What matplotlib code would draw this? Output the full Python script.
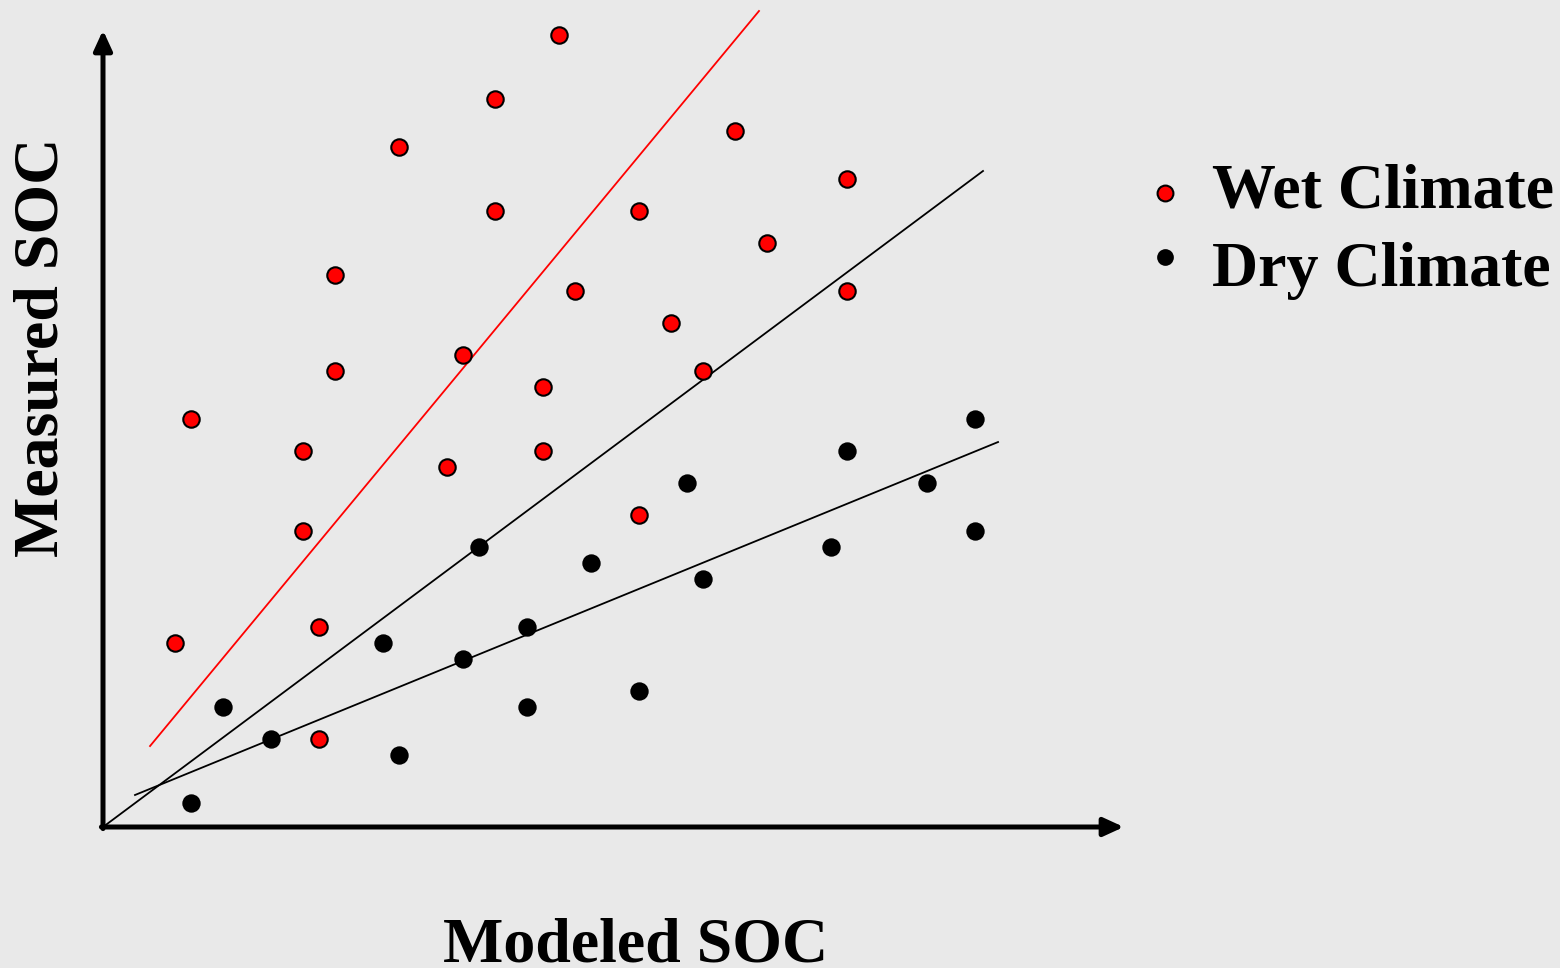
import matplotlib
matplotlib.use("Agg")
import matplotlib.pyplot as plt

plt.rcParams.update({"font.family": ["Liberation Serif", "DejaVu Serif"], "figure.dpi": 100})
BG, RED, INK = "#e9e9e9", "#ff0000", "#000000"

# modeled / measured SOC (arbitrary units)
wet_x = [28.5, 24.5, 18.5, 39.5, 46.5, 24.5, 33.5, 41.5, 14.5, 29.5, 35.5, 22.5, 46.5,
         14.5, 37.5, 27.5, 5.5, 12.5, 27.5, 21.5, 33.5, 12.5, 13.5, 4.5, 13.5]
wet_y = [49.5, 45.5, 42.5, 43.5, 40.5, 38.5, 38.5, 36.5, 34.5, 33.5, 31.5, 29.5, 33.5,
         28.5, 28.5, 27.5, 25.5, 23.5, 23.5, 22.5, 19.5, 18.5, 12.5, 11.5, 5.5]
dry_x = [54.5, 46.5, 51.5, 36.5, 23.5, 45.5, 54.5, 30.5, 37.5, 26.5, 17.5, 22.5, 33.5,
         7.5, 26.5, 10.5, 18.5, 5.5]
dry_y = [25.5, 23.5, 21.5, 21.5, 17.5, 17.5, 18.5, 16.5, 15.5, 12.5, 11.5, 10.5, 8.5,
         7.5, 7.5, 5.5, 4.5, 1.5]

# trend lines (start, end)
wet_fit_x, wet_fit_y = [2.94, 41.0], [5.06, 51.0]
one_to_one_x, one_to_one_y = [0.0, 55.0], [0.0, 41.0]
dry_fit_x, dry_fit_y = [2.0, 55.94], [2.0, 24.06]

fig = plt.figure(figsize=(15.6, 9.68), facecolor=BG)
ax = fig.add_axes([0, 0, 1, 1]); ax.set_facecolor(BG); ax.axis("off")
ax.set_xlim(-6.4375, 91.0625); ax.set_ylim(-8.8125, 51.6875)

# axes arrows
arrow = dict(arrowstyle="-|>,head_length=1.2,head_width=0.55", color=INK, lw=3.6, shrinkA=0, shrinkB=0)
ax.annotate("", xy=(63.8, 0), xytext=(-0.1, 0), arrowprops=arrow)
ax.annotate("", xy=(0, 49.8), xytext=(0, -0.1), arrowprops=arrow)

ax.plot(wet_fit_x, wet_fit_y, color=RED, lw=1.3, zorder=2)
ax.plot(one_to_one_x, one_to_one_y, color=INK, lw=1.3, zorder=2)
ax.plot(dry_fit_x, dry_fit_y, color=INK, lw=1.3, zorder=2)

ax.scatter(wet_x, wet_y, s=140, color=RED, edgecolor=INK, linewidth=1.5, zorder=3)
ax.scatter(dry_x, dry_y, s=175, color=INK, edgecolor=INK, linewidth=0, zorder=3)

# legend
ax.scatter([66.4], [39.6], s=130, color=RED, edgecolor=INK, linewidth=1.5, zorder=3)
ax.scatter([66.4], [35.6], s=145, color=INK, linewidth=0, zorder=3)
ax.text(69.3, 39.65, "Wet Climate", fontsize=46, weight="bold", va="center", ha="left")
ax.text(69.3, 34.75, "Dry Climate", fontsize=46, weight="bold", va="center", ha="left")

ax.text(-3.8, 30.0, "Measured SOC", fontsize=46, weight="bold", rotation=90, va="center", ha="center")
ax.text(33.3, -8.4, "Modeled SOC", fontsize=46, weight="bold", va="baseline", ha="center")

fig.savefig("out.png", facecolor=BG)
